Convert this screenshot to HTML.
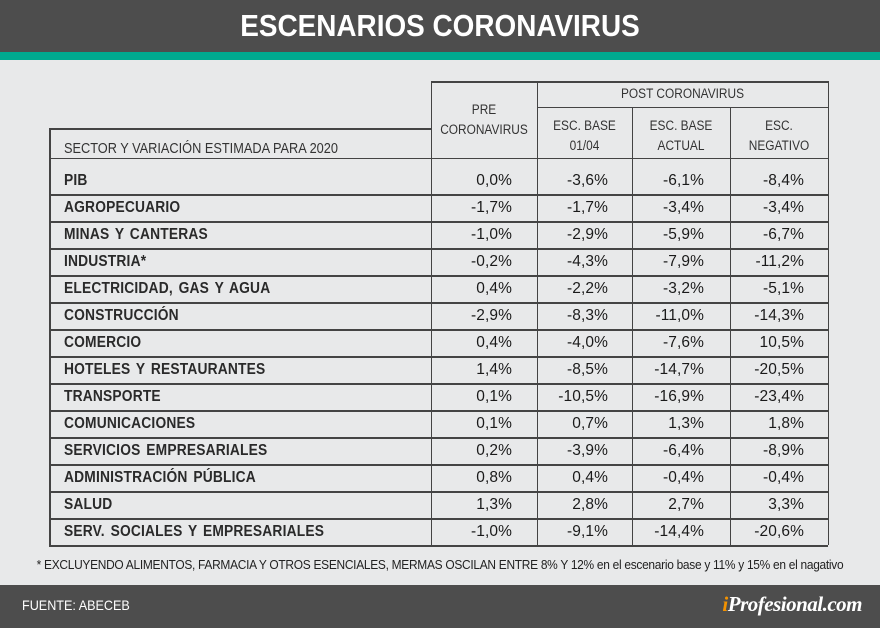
<!DOCTYPE html>
<html><head><meta charset="utf-8">
<style>
body{margin:0;width:880px;height:628px;overflow:hidden;background:#e8e9ea;font-family:"Liberation Sans",sans-serif;position:relative}
div{position:absolute;box-sizing:border-box}
.hdr{left:0;top:0;width:880px;height:52px;background:#4d4d4d}
.teal{left:0;top:52px;width:880px;height:8px;background:#00a98f}
.title{left:0;top:8px;width:880px;text-align:center;color:#fff;font-weight:bold;font-size:31px;transform:scaleX(0.9)}
.ln{background:#444}
.lbl{font-size:15.5px;font-weight:bold;color:#2a2a2a;letter-spacing:0.2px;word-spacing:2px;white-space:nowrap;transform:scaleX(0.89);transform-origin:left}
.val{font-size:15.5px;color:#1a1a1a;text-align:right;white-space:nowrap;letter-spacing:0.1px}
.hd{font-size:13.5px;color:#333;text-align:center;line-height:20px;transform:scaleX(0.88)}
.foot{left:0;top:585px;width:880px;height:43px;background:#4d4d4d}
</style></head><body>
<div class="hdr"></div>
<div class="title">ESCENARIOS CORONAVIRUS</div>
<div class="teal"></div>
<div id="tbl"></div>
<div style="left:-20px;top:558px;width:920px;text-align:center;font-size:12.5px;color:#222;white-space:nowrap;transform:scaleX(0.955);letter-spacing:-0.3px">* EXCLUYENDO ALIMENTOS, FARMACIA Y OTROS ESENCIALES, MERMAS OSCILAN ENTRE 8% Y 12% en el escenario base y 11% y 15% en el nagativo</div>
<div class="foot"></div>
<div style="left:22px;top:597px;color:#fff;font-size:14px;transform:scaleX(0.9);transform-origin:left">FUENTE: ABECEB</div>
<div style="left:700px;top:592px;width:162px;text-align:right;color:#fff;font-family:'Liberation Serif',serif;font-style:italic;font-weight:bold;font-size:21px;letter-spacing:-0.5px"><span style="color:#f39200">i</span>Profesional.com</div>
<script>
const sectors=["PIB","AGROPECUARIO","MINAS Y CANTERAS","INDUSTRIA*","ELECTRICIDAD, GAS Y AGUA","CONSTRUCCIÓN","COMERCIO","HOTELES Y RESTAURANTES","TRANSPORTE","COMUNICACIONES","SERVICIOS EMPRESARIALES","ADMINISTRACIÓN PÚBLICA","SALUD","SERV. SOCIALES Y EMPRESARIALES"];
const pre=["0,0%","-1,7%","-1,0%","-0,2%","0,4%","-2,9%","0,4%","1,4%","0,1%","0,1%","0,2%","0,8%","1,3%","-1,0%"];
const base0104=["-3,6%","-1,7%","-2,9%","-4,3%","-2,2%","-8,3%","-4,0%","-8,5%","-10,5%","0,7%","-3,9%","0,4%","2,8%","-9,1%"];
const baseActual=["-6,1%","-3,4%","-5,9%","-7,9%","-3,2%","-11,0%","-7,6%","-14,7%","-16,9%","1,3%","-6,4%","-0,4%","2,7%","-14,4%"];
const negativo=["-8,4%","-3,4%","-6,7%","-11,2%","-5,1%","-14,3%","10,5%","-20,5%","-23,4%","1,8%","-8,9%","-0,4%","3,3%","-20,6%"];
const B=document.body;
function mk(cls,st,txt,name){const d=document.createElement('div');d.className=cls;d.style.cssText=st;if(txt!==undefined)d.innerHTML=txt;


B.appendChild(d);return d;}
const L=49,R=828,cx=[431,537,632,730,828];
mk('ln',`left:${L}px;top:128px;width:${cx[0]-L}px;height:1.5px`,undefined,'table-border');
mk('ln',`left:${cx[0]}px;top:81px;width:${R-cx[0]}px;height:1.5px`,undefined,'table-border');
mk('ln',`left:${cx[1]}px;top:107px;width:${R-cx[1]}px;height:1px`,undefined,'table-border');
mk('ln',`left:${L}px;top:128px;width:1.5px;height:${545-128}px`,undefined,'table-border');
cx.forEach((x,i)=>{const top=i==0||i==1||i==4?81:107;mk('ln',`left:${x}px;top:${top}px;width:1px;height:${545-top}px`,undefined,'column-line');});
mk('ln',`left:${L}px;top:158px;width:${R-L}px;height:1px`,undefined,'header-line');
mk('hd',`left:${cx[1]}px;top:84px;width:${R-cx[1]}px`,'POST CORONAVIRUS','post-header');
mk('hd',`left:${cx[0]}px;top:100px;width:${cx[1]-cx[0]}px`,'PRE<br>CORONAVIRUS','pre-header');
mk('hd',`left:${cx[1]}px;top:116px;width:${cx[2]-cx[1]}px`,'ESC. BASE<br>01/04','base0104-header');
mk('hd',`left:${cx[2]}px;top:116px;width:${cx[3]-cx[2]}px`,'ESC. BASE<br>ACTUAL','actual-header');
mk('hd',`left:${cx[3]}px;top:116px;width:${cx[4]-cx[3]}px`,'ESC.<br>NEGATIVO','negativo-header');
mk('hd',`left:64px;top:139px;width:340px;text-align:left;font-size:14.5px;transform-origin:left`,'SECTOR Y VARIACIÓN ESTIMADA PARA 2020','sector-header');
const cols=[pre,base0104,baseActual,negativo];const rightEdges=[512,608,704,804];
sectors.forEach((s,i)=>{
 const top=i==0?158:194+(i-1)*27, h=i==0?36:27, bot=top+h;
 mk('ln',`left:${L}px;top:${bot}px;width:${R-L}px;height:1.5px`,undefined,'row-line');
 const ty=i==0?172:top+5;
 mk('lbl',`left:64px;top:${ty}px`,s,'row-label');
 cols.forEach((c,j)=>{mk('val',`left:${rightEdges[j]-90}px;top:${ty}px;width:90px`,c[i],'cell-value');});
});
</script>
</body></html>
